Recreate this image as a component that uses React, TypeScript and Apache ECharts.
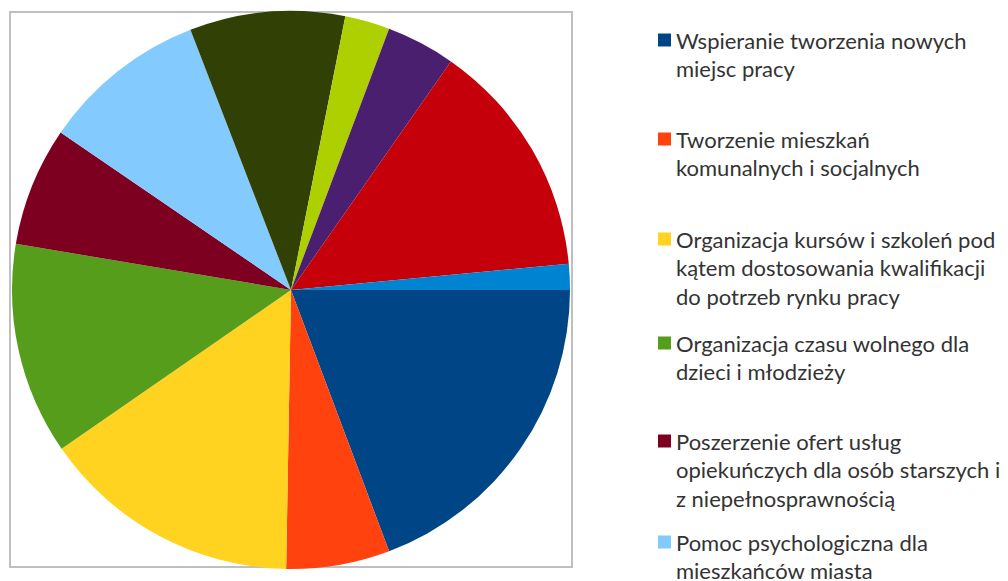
import React, { useEffect, useRef } from "react";
import * as echarts from "echarts";

// Legend labels as wrapped in the reference (line breaks as shown)
const categories: string[] = [
  "Wspieranie tworzenia nowych\nmiejsc pracy",
  "Tworzenie mieszkań\nkomunalnych i socjalnych",
  "Organizacja kursów i szkoleń pod\nkątem dostosowania kwalifikacji\ndo potrzeb rynku pracy",
  "Organizacja czasu wolnego dla\ndzieci i młodzieży",
  "Poszerzenie ofert usług\nopiekuńczych dla osób starszych i\nz niepełnosprawnością",
  "Pomoc psychologiczna dla\nmieszkańców miasta",
  "Kategoria 7",
  "Kategoria 8",
  "Kategoria 9",
  "Kategoria 10",
  "Kategoria 11",
];

// Share of answers (%)
const values: number[] = [19.3, 6.0, 15.1, 12.3, 6.9, 9.6, 9.0, 2.6, 4.0, 13.8, 1.5];

const colors: string[] = [
  "#004586", "#ff420e", "#ffd320", "#579d1c", "#7e0021", "#83caff",
  "#314004", "#aecf00", "#4b1f6f", "#c5000b", "#0084d1",
];

// vertical centre of each visible legend marker
const legendCenters: number[] = [40, 139, 239, 343, 441, 542];

export default function App() {
  const ref = useRef<HTMLDivElement>(null);
  useEffect(() => {
    document.body.style.margin = "0";
    const chart = echarts.init(ref.current!, undefined, { renderer: "svg" });
    const names = categories.map((c) => c.replace(/\n/g, " "));
    const LH = 28.5;
    const legends = legendCenters.map((cy, i) => {
      const n = categories[i].split("\n").length;
      const H = (2 * n - 1) * LH;
      return {
        show: true,
        left: 658,
        top: cy - H / 2,
        orient: "vertical",
        padding: 0,
        itemGap: 0,
        itemWidth: 13,
        itemHeight: 13,
        icon: "rect",
        selectedMode: false,
        data: [names[i]],
        formatter: () => "\n".repeat(n - 1) + categories[i],
        textStyle: {
          fontFamily: "Lato",
          fontSize: 22,
          color: "#333333",
          lineHeight: LH,
        },
      };
    });
    chart.setOption({
      animation: false,
      backgroundColor: "#ffffff",
      color: colors,
      graphic: [
        {
          type: "rect",
          shape: { x: 10, y: 12, width: 562, height: 555 },
          style: { fill: "none", stroke: "#bfbfbf", lineWidth: 2 },
          silent: true,
        },
      ],
      legend: legends,
      series: [
        {
          type: "pie",
          center: [291, 290],
          radius: 279,
          startAngle: 0,
          clockwise: true,
          label: { show: false },
          labelLine: { show: false },
          emphasis: { disabled: true },
          itemStyle: { borderWidth: 0 },
          data: names.map((name, i) => ({ name, value: values[i] })),
        },
      ],
    });
    return () => chart.dispose();
  }, []);
  return <div ref={ref} style={{ width: 1008, height: 581 }} />;
}
